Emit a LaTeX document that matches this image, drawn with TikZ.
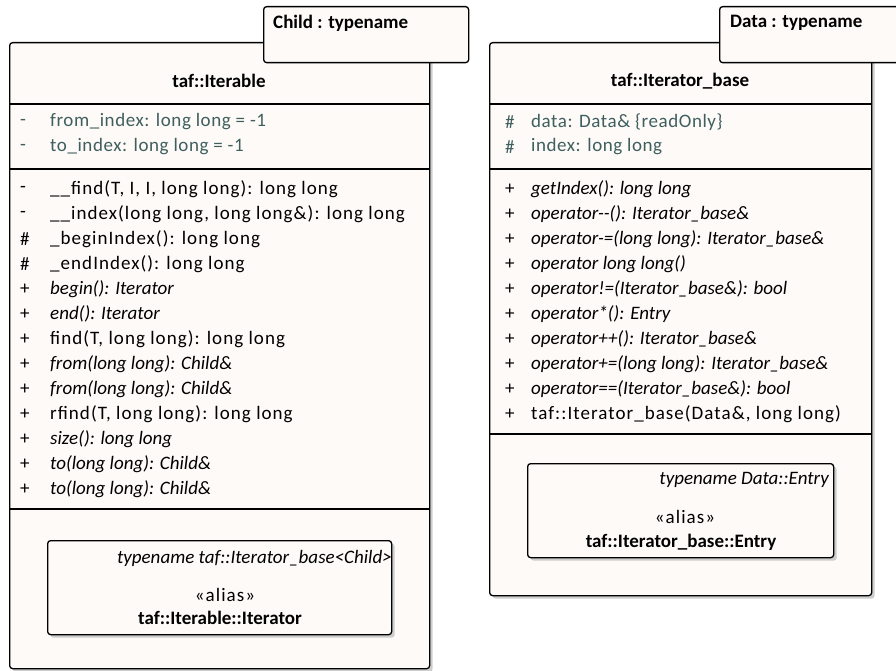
\documentclass[tikz,border=0pt]{standalone}
\usepackage{fontspec}
\setmainfont{Carlito}
\newfontfamily\spacedfont{Carlito}[LetterSpace=5.5]
\newfontfamily\attrfont{Carlito}[LetterSpace=3]
\usetikzlibrary{positioning, shadows}

\definecolor{boxfill}{HTML}{FDFAF7}
\definecolor{attrtext}{HTML}{3F5F5F}
\definecolor{shadowgray}{HTML}{CDCDCD}

\tikzset{
  umlbox/.style={draw, line width=1.3pt, rounded corners=3pt, fill=boxfill,
    inner sep=0pt, anchor=north west,
    drop shadow={shadow xshift=3pt, shadow yshift=-3pt, fill=shadowgray, opacity=1}},
  parambox/.style={draw, line width=1.3pt, rounded corners=3pt, fill=boxfill,
    inner sep=0pt, anchor=north west},
  sepline/.style={line width=1.3pt},
  member/.style={anchor=west, inner sep=0pt, font=\fontsize{19}{23}\selectfont},
  attr/.style={member, text=attrtext, font=\fontsize{19}{23}\attrfont},
  opup/.style={member, font=\fontsize{19}{23}\spacedfont},
  opit/.style={member, font=\fontsize{19}{23}\selectfont\itshape},
  title/.style={inner sep=0pt, font=\fontsize{19}{23}\selectfont\bfseries},
}

\begin{document}
\begin{tikzpicture}[x=1pt, y=-1pt]
    \useasboundingbox (0,0) rectangle (896,671);

    % Klasse taf::Iterable
    \node[umlbox, minimum width=420pt, minimum height=626pt] (iterable) at (9,42) {};
    \node[parambox, minimum width=205pt, minimum height=56pt] (childparam) at (263,6) {};
    \node[title, anchor=west] (childlabel) at (273,23) {Child : typename};
    \node[title] (iterablename) at (219,81) {taf::Iterable};
    \foreach \y in {104,169,509} {
        \draw[sepline] (iterable.west |- 0,\y) -- (iterable.east |- 0,\y);
    }
    \foreach \v/\t [count=\i] in {-/from\_index: long long = -1, -/to\_index: long long = -1} {
        \node[attr] (lvattr\i) at (20,{97+25*\i}) {\v};
        \node[attr] (lattr\i) at (50,{97+25*\i}) {\t};
    }
    \foreach \v/\t/\s [count=\i] in {
        {-/\_\_find(T, I, I, long long): long long/opup},
        {-/\_\_index(long long, long long\&): long long/opup},
        {\#/\_beginIndex(): long long/opup},
        {\#/\_endIndex(): long long/opup},
        {+/begin(): Iterator/opit},
        {+/end(): Iterator/opit},
        {+/find(T, long long): long long/opup},
        {+/from(long long): Child\&/opit},
        {+/from(long long): Child\&/opit},
        {+/rfind(T, long long): long long/opup},
        {+/size(): long long/opit},
        {+/to(long long): Child\&/opit},
        {+/to(long long): Child\&/opit}} {
        \node[member] (lvop\i) at (20,{164+25*\i}) {\v};
        \node[\s] (lop\i) at (50,{164+25*\i}) {\t};
    }

    % Alias Iterator
    \node[umlbox, minimum width=344pt, minimum height=94pt] (iteratoralias) at (47,540) {};
    \node[opit, anchor=east] (iteratortype) at (392,558) {typename taf::Iterator\_base<Child>};
    \node[opup, anchor=center] (iteratorstereo) at (225,595) {«alias»};
    \node[title] (iteratorname) at (220,618) {taf::Iterable::Iterator};

    % Klasse taf::Iterator_base
    \node[umlbox, minimum width=382pt, minimum height=553pt] (iterbase) at (489,42) {};
    \node[parambox, minimum width=185pt, minimum height=56pt] (dataparam) at (719,6) {};
    \node[title, anchor=west] (datalabel) at (730,23) {Data : typename};
    \node[title] (iterbasename) at (680,81) {taf::Iterator\_base};
    \foreach \y in {104,169,434} {
        \draw[sepline] (iterbase.west |- 0,\y) -- (iterbase.east |- 0,\y);
    }
    \foreach \v/\t [count=\i] in {\#/data: Data\& \{readOnly\}, \#/index: long long} {
        \node[attr] (rvattr\i) at (505,{97+25*\i}) {\v};
        \node[attr] (rattr\i) at (531,{97+25*\i}) {\t};
    }
    \foreach \v/\t/\s [count=\i] in {
        {+/getIndex(): long long/opit},
        {+/operator-{}-(): Iterator\_base\&/opit},
        {+/operator-=(long long): Iterator\_base\&/opit},
        {+/operator long long()/opit},
        {+/operator!=(Iterator\_base\&): bool/opit},
        {+/operator*(): Entry/opit},
        {+/operator++(): Iterator\_base\&/opit},
        {+/operator+=(long long): Iterator\_base\&/opit},
        {+/operator==(Iterator\_base\&): bool/opit},
        {+/taf::Iterator\_base(Data\&, long long)/opup}} {
        \node[member] (rvop\i) at (505,{164+25*\i}) {\v};
        \node[\s] (rop\i) at (531,{164+25*\i}) {\t};
    }

    % Alias Entry
    \node[umlbox, minimum width=306pt, minimum height=94pt] (entryalias) at (527,463) {};
    \node[opit, anchor=east] (entrytype) at (829,480) {typename Data::Entry};
    \node[opup, anchor=center] (entrystereo) at (685,517) {«alias»};
    \node[title] (entryname) at (681,542) {taf::Iterator\_base::Entry};
\end{tikzpicture}
\end{document}
